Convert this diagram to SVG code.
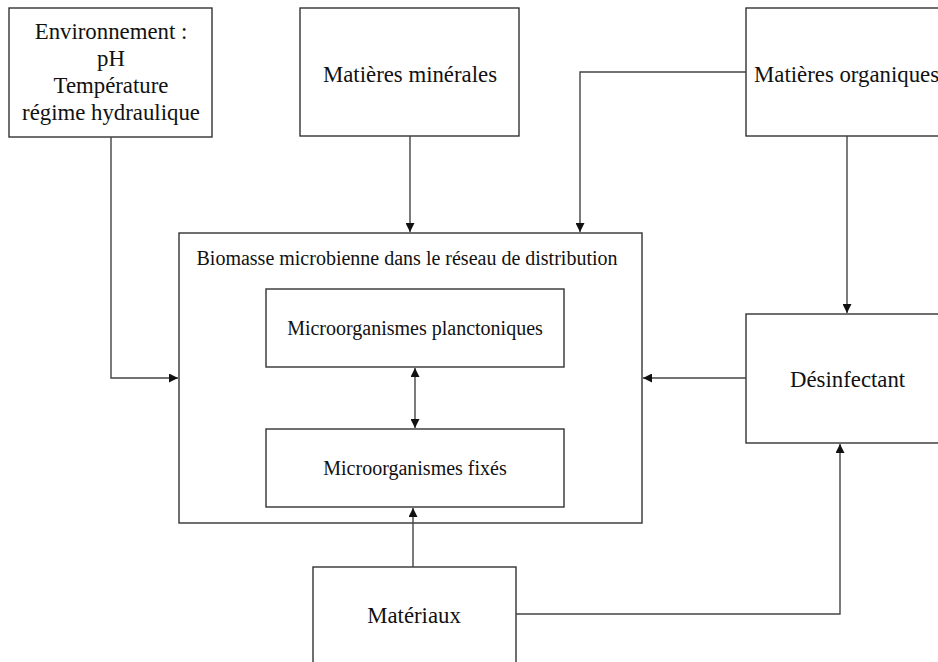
<svg xmlns="http://www.w3.org/2000/svg" width="938" height="662" viewBox="0 0 938 662">
<defs>
<style>
.box{fill:#fff;stroke:#333;stroke-width:1.4}
.ln{fill:none;stroke:#444;stroke-width:1.4}
.t{font-family:"Liberation Serif","Times New Roman",serif;fill:#111;font-size:22.8px}
.s{font-size:20px}
.m{text-anchor:middle}
</style>
<marker id="ah" viewBox="0 0 10 10" refX="10" refY="5" markerWidth="9" markerHeight="9" markerUnits="userSpaceOnUse" orient="auto-start-reverse">
<path d="M0,0 L10,5 L0,10 z" fill="#111"/>
</marker>
</defs>
<rect width="938" height="662" fill="#fff"/>
<g id="environnement">
<rect class="box" x="9" y="8" width="203" height="129"/>
<text class="t m" x="111" y="39">Environnement :</text>
<text class="t m" x="111" y="66">pH</text>
<text class="t m" x="111" y="93">Température</text>
<text class="t m" x="111" y="120">régime hydraulique</text>
</g>
<g id="matieres-minerales">
<rect class="box" x="300" y="8" width="219" height="128"/>
<text class="t m" x="410" y="82">Matières minérales</text>
</g>
<g id="matieres-organiques">
<rect class="box" x="746" y="8" width="200" height="128"/>
<text class="t" x="754" y="82">Matières organiques</text>
</g>
<g id="biomasse">
<rect class="box" x="179" y="233" width="463" height="290"/>
<text class="t s m" x="407" y="265">Biomasse microbienne dans le réseau de distribution</text>
</g>
<g id="planctoniques">
<rect class="box" x="266" y="289" width="298" height="78"/>
<text class="t s m" x="415" y="335">Microorganismes planctoniques</text>
</g>
<g id="fixes">
<rect class="box" x="266" y="429" width="298" height="78"/>
<text class="t s m" x="415" y="475">Microorganismes fixés</text>
</g>
<g id="desinfectant">
<rect class="box" x="746" y="314" width="200" height="129"/>
<text class="t" x="790" y="387">Désinfectant</text>
</g>
<g id="materiaux">
<rect class="box" x="313" y="567" width="203" height="110"/>
<text class="t m" x="414" y="623">Matériaux</text>
</g>
<g id="connectors">
<path class="ln" d="M111,137 V378 H178" marker-end="url(#ah)"/>
<path class="ln" d="M410,136 V232" marker-end="url(#ah)"/>
<path class="ln" d="M746,72 H580 V232" marker-end="url(#ah)"/>
<path class="ln" d="M847,136 V313" marker-end="url(#ah)"/>
<path class="ln" d="M746,378 H643" marker-end="url(#ah)"/>
<path class="ln" d="M415,368 V428" marker-start="url(#ah)" marker-end="url(#ah)"/>
<path class="ln" d="M413,567 V508" marker-end="url(#ah)"/>
<path class="ln" d="M516,614 H840 V444" marker-end="url(#ah)"/>
</g>
</svg>
